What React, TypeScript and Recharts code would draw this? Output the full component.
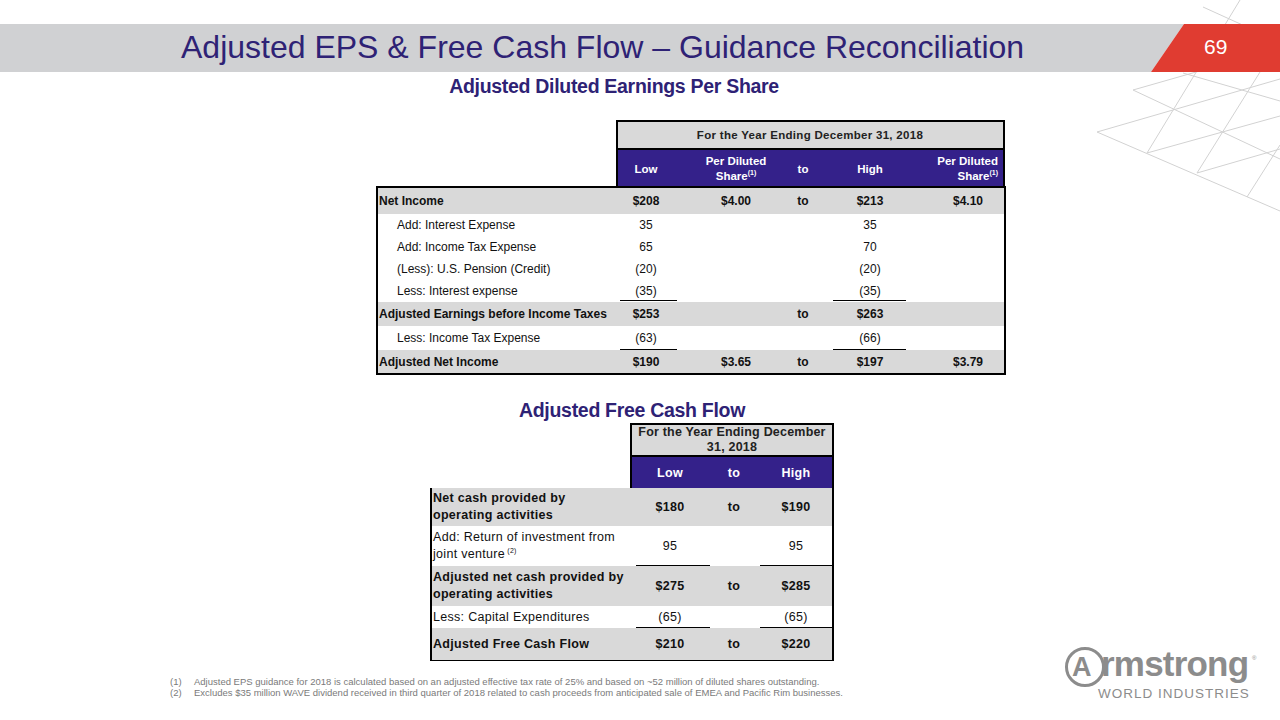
import React from 'react'
import { Surface, Layer } from 'recharts'

// Adjusted diluted EPS guidance (USD millions, per share in USD)
const epsLabels = [
  'Net Income',
  'Add: Interest Expense',
  'Add: Income Tax Expense',
  '(Less): U.S. Pension (Credit)',
  'Less: Interest expense',
  'Adjusted Earnings before Income Taxes',
  'Less: Income Tax Expense',
  'Adjusted Net Income',
]
const epsTotals = [true, false, false, false, false, true, false, true]
const epsLow = [208, 35, 65, -20, -35, 253, -63, 190]
const epsHigh = [213, 35, 70, -20, -35, 263, -66, 197]
const epsLowPerShare = [4.0, null, null, null, null, null, null, 3.65]
const epsHighPerShare = [4.1, null, null, null, null, null, null, 3.79]
const epsTo = [true, false, false, false, false, true, false, true]

// Adjusted free cash flow guidance
const fcfLabels = [
  ['Net cash provided by', 'operating activities'],
  ['Add: Return of investment from', 'joint venture'],
  ['Adjusted net cash provided by', 'operating activities'],
  ['Less: Capital Expenditures'],
  ['Adjusted Free Cash Flow'],
]
const fcfTotals = [true, false, true, false, true]
const fcfLow = [180, 95, 275, -65, 210]
const fcfHigh = [190, 95, 285, -65, 220]
const fcfTo = [true, false, true, false, true]
const fcfNotes = [null, '(2)', null, null, null]

const footnotes = [
  'Adjusted EPS guidance for 2018 is calculated based on an adjusted effective tax rate of 25% and based on ~52  million of diluted shares outstanding.',
  'Excludes $35 million WAVE dividend received in third quarter of 2018 related to cash proceeds  from anticipated sale of EMEA and  Pacific Rim businesses.',
]

const FONT = '"Liberation Sans", Arial, sans-serif'
const PURPLE = '#34218a'
const TITLE = '#2e2275'
const GRAY = '#d9d9d9'

const fmt = (v: number, total: boolean) => {
  const s = Math.abs(v).toString()
  if (v < 0) return `(${s})`
  return total ? `$${s}` : s
}

const epsRowTops = [188, 214, 236, 258, 280, 302, 326, 350]
const epsRowH = [26, 22, 22, 22, 22, 24, 24, 23]
const fcfRowTops = [488, 526, 566, 606, 628]
const fcfRowH = [38, 40, 40, 22, 32]

function Cell({ cx, top, h, w = 80, children, style }: any) {
  return (
    <div
      style={{
        position: 'absolute',
        left: cx - w / 2,
        top,
        width: w,
        height: h,
        display: 'flex',
        alignItems: 'center',
        justifyContent: 'center',
        textAlign: 'center',
        ...style,
      }}
    >
      {children}
    </div>
  )
}

const Sup = ({ t }: { t: string }) => (
  <sup style={{ fontSize: 7, verticalAlign: 'super', lineHeight: 0 }}>{t}</sup>
)

function Lattice() {
  const lines = [
    [1097, 132, 1280, 79],
    [1133, 90, 1280, 48],
    [1147, 153, 1280, 116],
    [1197, 173, 1280, 149],
    [1097, 132, 1280, 211],
    [1133, 90, 1280, 159],
    [1183, 73, 1280, 101],
    [1203, 7, 1280, 42],
    [1147, 153, 1240, 0],
    [1197, 173, 1280, 40],
    [1247, 197, 1280, 145],
  ]
  return (
    <Layer>
      {lines.map((l, i) => (
        <line key={i} x1={l[0]} y1={l[1]} x2={l[2]} y2={l[3]} stroke="#d2d2d2" strokeWidth={1} />
      ))}
    </Layer>
  )
}

export default function App() {
  const epsCols = { low: 646, pds1: 736, to: 803, high: 870, pds2: 968 }
  const fcfCols = { low: 670, to: 734, high: 796 }

  return (
    <div
      style={{
        position: 'absolute',
        left: 0,
        top: 0,
        width: 1280,
        height: 720,
        background: '#fff',
        fontFamily: FONT,
        overflow: 'hidden',
      }}
    >
      <Surface width={1280} height={720} style={{ position: 'absolute', left: 0, top: 0 }}>
        <Lattice />
        <polygon points="0,24 1184,24 1151,72 0,72" fill="#d0d1d3" />
        <polygon points="1184,24 1280,24 1280,72 1151,72" fill="#e03c31" />
        <circle cx={1085} cy={667} r={18.5} fill="none" stroke="#8c8c8c" strokeWidth={3} />
      </Surface>

      {/* slide title */}
      <div
        style={{
          position: 'absolute',
          left: 181,
          top: 28,
          fontSize: 32,
          color: TITLE,
          whiteSpace: 'nowrap',
          lineHeight: '38px',
        }}
      >
        Adjusted EPS &amp; Free Cash Flow – Guidance Reconciliation
      </div>
      <div style={{ position: 'absolute', left: 1204, top: 35, fontSize: 21, color: '#fff' }}>69</div>

      <div
        style={{
          position: 'absolute',
          left: 400,
          width: 428,
          top: 75,
          textAlign: 'center',
          fontSize: 19.5,
          fontWeight: 'bold',
          color: TITLE,
          letterSpacing: -0.3,
        }}
      >
        Adjusted Diluted Earnings Per Share
      </div>

      {/* EPS table header */}
      <div
        style={{
          position: 'absolute',
          left: 616,
          top: 120,
          width: 389,
          height: 66,
          border: '2px solid #000',
          borderBottom: 'none',
          boxSizing: 'border-box',
          background: GRAY,
        }}
      />
      <div style={{ position: 'absolute', left: 618, top: 150, width: 385, height: 37, background: PURPLE }} />
      <div style={{ position: 'absolute', left: 618, top: 148, width: 385, height: 2, background: '#000' }} />
      <Cell cx={810} top={122} h={26} w={380} style={{ fontSize: 11.5, fontWeight: 'bold', color: '#222', letterSpacing: 0.3 }}>
        For the Year Ending December 31, 2018
      </Cell>
      {[
        { cx: epsCols.low, t: 'Low' },
        { cx: epsCols.to, t: 'to' },
        { cx: epsCols.high, t: 'High' },
      ].map((c) => (
        <Cell key={c.t} cx={c.cx} top={150} h={37} style={{ fontSize: 11.5, fontWeight: 'bold', color: '#fff' }}>
          {c.t}
        </Cell>
      ))}
      <Cell cx={epsCols.pds1} top={150} h={37} w={90} style={{ fontSize: 11.5, fontWeight: 'bold', color: '#fff', lineHeight: '15px' }}>
        <div>
          Per Diluted
          <br />
          Share<Sup t="(1)" />
        </div>
      </Cell>
      <div
        style={{
          position: 'absolute',
          left: 900,
          top: 150,
          width: 98,
          height: 37,
          display: 'flex',
          alignItems: 'center',
          justifyContent: 'flex-end',
          textAlign: 'right',
          fontSize: 11.5,
          fontWeight: 'bold',
          color: '#fff',
          lineHeight: '15px',
        }}
      >
        <div>
          Per Diluted
          <br />
          Share<Sup t="(1)" />
        </div>
      </div>

      {/* EPS table body */}
      <div
        style={{
          position: 'absolute',
          left: 376,
          top: 186,
          width: 630,
          height: 189,
          border: '2px solid #000',
          boxSizing: 'border-box',
        }}
      />
      {epsLabels.map((label, i) => {
        const total = epsTotals[i]
        const top = epsRowTops[i]
        const h = epsRowH[i]
        const txt = { fontSize: 12, color: '#111', fontWeight: total ? 'bold' : 'normal' } as const
        return (
          <React.Fragment key={label}>
            {total && (
              <div style={{ position: 'absolute', left: 378, top, width: 626, height: h, background: GRAY }} />
            )}
            <div
              style={{
                position: 'absolute',
                left: total ? 379 : 397,
                top,
                height: h,
                display: 'flex',
                alignItems: 'center',
                whiteSpace: 'nowrap',
                ...txt,
              }}
            >
              {label}
            </div>
            <Cell cx={epsCols.low} top={top} h={h} style={txt}>
              {fmt(epsLow[i], total)}
            </Cell>
            {epsLowPerShare[i] != null && (
              <Cell cx={epsCols.pds1} top={top} h={h} style={txt}>
                ${(epsLowPerShare[i] as number).toFixed(2)}
              </Cell>
            )}
            {epsTo[i] && (
              <Cell cx={epsCols.to} top={top} h={h} style={txt}>
                to
              </Cell>
            )}
            <Cell cx={epsCols.high} top={top} h={h} style={txt}>
              {fmt(epsHigh[i], total)}
            </Cell>
            {epsHighPerShare[i] != null && (
              <Cell cx={epsCols.pds2} top={top} h={h} style={txt}>
                ${(epsHighPerShare[i] as number).toFixed(2)}
              </Cell>
            )}
          </React.Fragment>
        )
      })}
      {[300, 349].map((y) => (
        <React.Fragment key={y}>
          <div style={{ position: 'absolute', left: 620, top: y, width: 57, height: 1, background: '#000' }} />
          <div style={{ position: 'absolute', left: 833, top: y, width: 73, height: 1, background: '#000' }} />
        </React.Fragment>
      ))}

      {/* Free cash flow */}
      <div
        style={{
          position: 'absolute',
          left: 420,
          width: 424,
          top: 399,
          textAlign: 'center',
          fontSize: 19.5,
          fontWeight: 'bold',
          color: TITLE,
          letterSpacing: -0.3,
        }}
      >
        Adjusted Free Cash Flow
      </div>
      <div
        style={{
          position: 'absolute',
          left: 630,
          top: 423,
          width: 204,
          height: 66,
          border: '2px solid #000',
          borderBottom: 'none',
          boxSizing: 'border-box',
          background: GRAY,
        }}
      />
      <div style={{ position: 'absolute', left: 632, top: 457, width: 200, height: 31, background: PURPLE }} />
      <div style={{ position: 'absolute', left: 632, top: 455, width: 200, height: 2, background: '#000' }} />
      <Cell cx={732} top={425} h={30} w={204} style={{ fontSize: 12.5, fontWeight: 'bold', color: '#222', lineHeight: '15px', letterSpacing: 0.2 }}>
        <div>
          For the Year Ending December
          <br />
          31, 2018
        </div>
      </Cell>
      {[
        { cx: fcfCols.low, t: 'Low' },
        { cx: fcfCols.to, t: 'to' },
        { cx: fcfCols.high, t: 'High' },
      ].map((c) => (
        <Cell key={c.t} cx={c.cx} top={457} h={31} style={{ fontSize: 12.5, fontWeight: 'bold', color: '#fff', letterSpacing: 0.3 }}>
          {c.t}
        </Cell>
      ))}
      <div
        style={{
          position: 'absolute',
          left: 430,
          top: 488,
          width: 404,
          height: 173,
          border: '2px solid #000',
          boxSizing: 'border-box',
        }}
      />
      {fcfLabels.map((lines, i) => {
        const total = fcfTotals[i]
        const top = fcfRowTops[i]
        const h = fcfRowH[i]
        const txt = { fontSize: 12.5, color: '#111', fontWeight: total ? 'bold' : 'normal', letterSpacing: 0.3 } as const
        return (
          <React.Fragment key={i}>
            {total && (
              <div style={{ position: 'absolute', left: 432, top, width: 400, height: h, background: GRAY }} />
            )}
            <div
              style={{
                position: 'absolute',
                left: 433,
                top,
                height: h,
                display: 'flex',
                alignItems: 'center',
                whiteSpace: 'nowrap',
                lineHeight: '17px',
                ...txt,
              }}
            >
              <div>
                {lines.map((ln, j) => (
                  <div key={j}>
                    {ln}
                    {j === lines.length - 1 && fcfNotes[i] && <Sup t={' ' + fcfNotes[i]} />}
                  </div>
                ))}
              </div>
            </div>
            <Cell cx={fcfCols.low} top={top} h={h} style={txt}>
              {fmt(fcfLow[i], total)}
            </Cell>
            {fcfTo[i] && (
              <Cell cx={fcfCols.to} top={top} h={h} style={txt}>
                to
              </Cell>
            )}
            <Cell cx={fcfCols.high} top={top} h={h} style={txt}>
              {fmt(fcfHigh[i], total)}
            </Cell>
          </React.Fragment>
        )
      })}
      {[566, 628].map((y) => (
        <React.Fragment key={y}>
          <div style={{ position: 'absolute', left: 636, top: y - 1, width: 74, height: 1, background: '#000' }} />
          <div style={{ position: 'absolute', left: 760, top: y - 1, width: 72, height: 1, background: '#000' }} />
        </React.Fragment>
      ))}

      {/* footnotes */}
      {footnotes.map((f, i) => (
        <div
          key={i}
          style={{
            position: 'absolute',
            left: 170,
            top: 676 + i * 11,
            fontSize: 9.5,
            color: '#7a7a7a',
            whiteSpace: 'nowrap',
          }}
        >
          <span style={{ display: 'inline-block', width: 24 }}>({i + 1})</span>
          {f}
        </div>
      ))}

      {/* logo */}
      <div
        style={{
          position: 'absolute',
          left: 1072,
          top: 648,
          fontSize: 27,
          fontWeight: 'bold',
          color: '#8c8c8c',
          lineHeight: '38px',
        }}
      >
        A
      </div>
      <div
        style={{
          position: 'absolute',
          left: 1101,
          top: 644,
          fontSize: 35,
          fontWeight: 'bold',
          color: '#8c8c8c',
          letterSpacing: -0.8,
          lineHeight: '40px',
        }}
      >
        rmstrong
      </div>
      <div style={{ position: 'absolute', left: 1252, top: 655, fontSize: 6, color: '#8c8c8c' }}>®</div>
      <div
        style={{
          position: 'absolute',
          left: 1098,
          top: 686,
          fontSize: 13.5,
          color: '#8c8c8c',
          letterSpacing: 1,
          whiteSpace: 'nowrap',
        }}
      >
        WORLD INDUSTRIES
      </div>
    </div>
  )
}
